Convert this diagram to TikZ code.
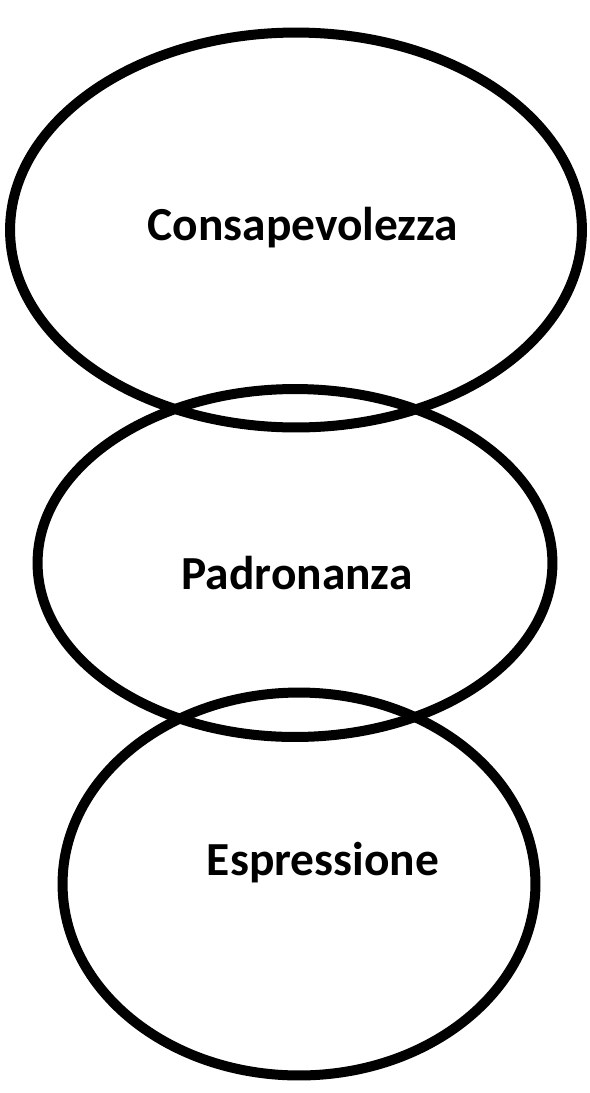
\documentclass[tikz,border=0pt]{standalone}
\usepackage{fontspec}
\setmainfont{Carlito}
\usetikzlibrary{positioning, shapes.geometric}

\tikzset{
    ring/.style={draw=black, ellipse, line width=10*0.02cm, inner sep=0pt},
    word/.style={font=\bfseries\fontsize{27}{31}\selectfont, inner sep=0pt}
}

\begin{document}
\begin{tikzpicture}[x=0.02cm, y=-0.02cm]
    \useasboundingbox (0,0) rectangle (589,1093);

    % the three rings
    \node[ring, minimum width=11.44cm, minimum height=7.9cm] (cons) at (296,230) {};
    \node[ring, minimum width=10.3cm, minimum height=6.96cm] (padr) at (295,563) {};
    \node[ring, minimum width=9.46cm, minimum height=7.66cm] (espr) at (299,884) {};

    % labels
    \node[word] (tcons) at (303,228) {Consapevolezza};
    \node[word] (tpadr) at (297,573) {Padronanza};
    \node[word] (tespr) at (323,863) {Espressione};
\end{tikzpicture}
\end{document}
